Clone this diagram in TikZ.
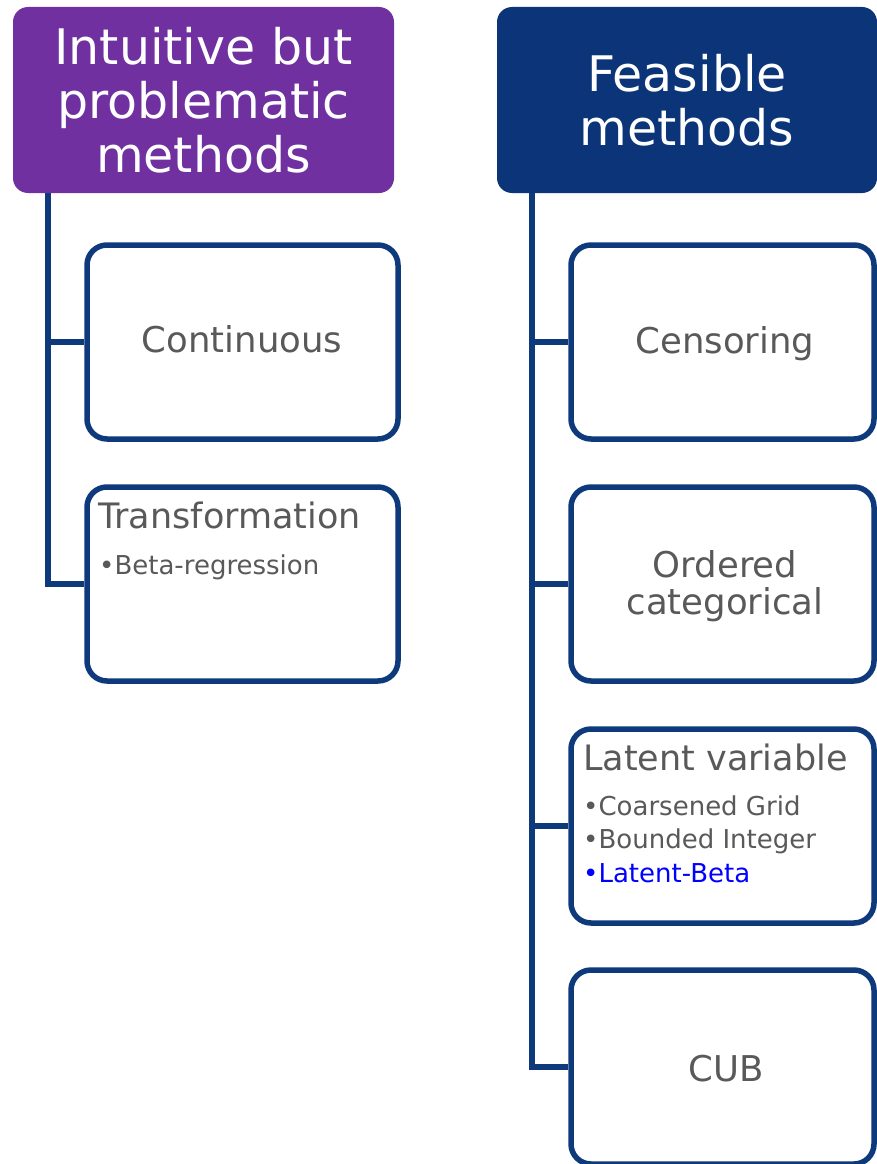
\documentclass[tikz,border=0pt]{standalone}
\usepackage{fontspec}
\setmainfont{DejaVu Sans}
\definecolor{hpurple}{HTML}{7030A0}
\definecolor{hblue}{HTML}{0B3578}
\definecolor{bline}{HTML}{0E3A7C}
\definecolor{tgrey}{HTML}{595959}
\definecolor{lbeta}{HTML}{0000FF}
\tikzset{
  header/.style={rounded corners=15pt, minimum width=#1, minimum height=186pt, inner sep=0pt, text=white, align=center, font=\fontsize{49}{54}\selectfont},
  sub/.style={draw=bline, line width=5.5pt, rounded corners=20pt, fill=white, minimum width=#1, minimum height=194pt, inner sep=0pt},
  conn/.style={draw=bline, line width=6pt, line join=miter},
  lbl/.style={anchor=base, inner sep=0pt, text=tgrey, font=\fontsize{35.5}{40}\selectfont},
  ttl/.style={anchor=base west, inner sep=0pt, text=tgrey, font=\fontsize{35}{40}\selectfont},
  blt/.style={anchor=base west, inner sep=0pt, text=tgrey, font=\fontsize{26}{30}\selectfont},
}
\begin{document}
\begin{tikzpicture}[x=1pt,y=-1pt]
\useasboundingbox (0,0) rectangle (877,1164);
% headers
\node[header=381pt, fill=hpurple] (h1) at (203.5,100) {Intuitive but\\problematic\\methods};
\node[header=380pt, fill=hblue] (h2) at (687,100) {Feasible\\methods};
% connector tops
\coordinate (t1) at (48,193);
\coordinate (t2) at (532,193);
% left boxes
\node[sub=311pt] (c1) at (242.5,342) {};
\node[sub=311pt] (c2) at (242.5,584) {};
% right boxes
\node[sub=303pt] (r1) at (722.5,342) {};
\node[sub=303pt] (r2) at (722.5,584) {};
\node[sub=303pt] (r3) at (722.5,826) {};
\node[sub=303pt] (r4) at (722.5,1067) {};
% connectors
\draw[conn] (t1) |- (c1.west);
\draw[conn] (t1) |- (c2.west);
\draw[conn] (t2) |- (r1.west);
\draw[conn] (t2) |- (r2.west);
\draw[conn] (t2) |- (r3.west);
\draw[conn] (t2) |- (r4.west);
% centred labels
\node[lbl] (c1t) at (242,352) {Continuous};
\node[lbl] (r1t) at (725,353) {Censoring};
\node[lbl] (r2t) at (725,577) {Ordered};
\node[lbl] (r2u) at (725,614) {categorical};
\node[lbl] (r4t) at (726,1081) {CUB};
% texts in boxes
\node[ttl] (c2t) at (98,528) {Transformation};
\node[blt] (c2b) at (99,574) {•Beta-regression};
\node[ttl] (r3t) at (583,770) {Latent variable};
\node[blt] (r3a) at (583,815) {•Coarsened Grid};
\node[blt] (r3b) at (583,848) {•Bounded Integer};
\node[blt, text=lbeta] (r3c) at (583,882) {•Latent-Beta};
\end{tikzpicture}
\end{document}
